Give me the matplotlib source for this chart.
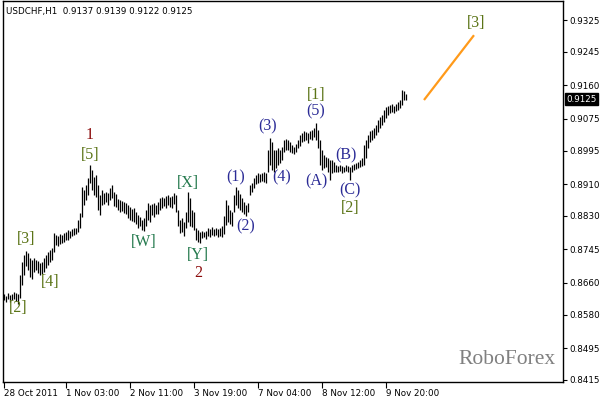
import matplotlib
matplotlib.use("Agg")
import matplotlib.pyplot as plt
import numpy as np

highs = [0.8632, 0.8627, 0.8635, 0.8630, 0.8632, 0.8637, 0.8635, 0.8632, 0.8680, 0.8713,
         0.8731, 0.8741, 0.8736, 0.8723, 0.8718, 0.8723, 0.8718, 0.8716, 0.8711, 0.8713,
         0.8723, 0.8731, 0.8738, 0.8743, 0.8749, 0.8786, 0.8781, 0.8779, 0.8784, 0.8781,
         0.8786, 0.8789, 0.8794, 0.8792, 0.8797, 0.8799, 0.8799, 0.8819, 0.8837, 0.8903,
         0.8895, 0.8908, 0.8926, 0.8958, 0.8946, 0.8928, 0.8933, 0.8908, 0.8883, 0.8895,
         0.8888, 0.8890, 0.8888, 0.8900, 0.8908, 0.8890, 0.8885, 0.8872, 0.8870, 0.8868,
         0.8865, 0.8862, 0.8857, 0.8852, 0.8847, 0.8850, 0.8840, 0.8832, 0.8827, 0.8819,
         0.8825, 0.8845, 0.8862, 0.8857, 0.8860, 0.8862, 0.8857, 0.8865, 0.8875, 0.8878,
         0.8875, 0.8880, 0.8883, 0.8878, 0.8880, 0.8888, 0.8883, 0.8845, 0.8819, 0.8825,
         0.8814, 0.8840, 0.8890, 0.8875, 0.8845, 0.8840, 0.8799, 0.8794, 0.8789, 0.8792,
         0.8789, 0.8792, 0.8799, 0.8797, 0.8802, 0.8797, 0.8799, 0.8797, 0.8799, 0.8804,
         0.8829, 0.8870, 0.8857, 0.8845, 0.8840, 0.8883, 0.8903, 0.8895, 0.8885, 0.8875,
         0.8865, 0.8857, 0.8862, 0.8908, 0.8913, 0.8926, 0.8933, 0.8938, 0.8936, 0.8938,
         0.8941, 0.8938, 0.8996, 0.9027, 0.9017, 0.8996, 0.8996, 0.9002, 0.8996, 0.9004,
         0.9022, 0.9024, 0.9022, 0.9017, 0.9009, 0.9004, 0.9012, 0.9022, 0.9034, 0.9040,
         0.9045, 0.9042, 0.9040, 0.9045, 0.9047, 0.9052, 0.9065, 0.9047, 0.9022, 0.8996,
         0.8984, 0.8979, 0.8976, 0.8971, 0.8971, 0.8966, 0.8958, 0.8956, 0.8958, 0.8956,
         0.8954, 0.8958, 0.8956, 0.8954, 0.8958, 0.8961, 0.8964, 0.8966, 0.8971, 0.8976,
         0.9009, 0.9022, 0.9034, 0.9045, 0.9047, 0.9052, 0.9060, 0.9072, 0.9080, 0.9085,
         0.9098, 0.9105, 0.9108, 0.9110, 0.9113, 0.9108, 0.9113, 0.9118, 0.9123, 0.9148,
         0.9146, 0.9139]

lows = [0.8617, 0.8612, 0.8620, 0.8612, 0.8617, 0.8620, 0.8614, 0.8607, 0.8622, 0.8655,
        0.8680, 0.8703, 0.8693, 0.8675, 0.8670, 0.8688, 0.8693, 0.8685, 0.8680, 0.8683,
        0.8688, 0.8698, 0.8705, 0.8713, 0.8718, 0.8738, 0.8756, 0.8754, 0.8759, 0.8761,
        0.8764, 0.8769, 0.8769, 0.8774, 0.8779, 0.8781, 0.8784, 0.8789, 0.8799, 0.8827,
        0.8857, 0.8870, 0.8883, 0.8913, 0.8895, 0.8883, 0.8878, 0.8845, 0.8832, 0.8857,
        0.8860, 0.8865, 0.8857, 0.8870, 0.8875, 0.8855, 0.8852, 0.8845, 0.8840, 0.8842,
        0.8837, 0.8835, 0.8825, 0.8819, 0.8817, 0.8814, 0.8809, 0.8799, 0.8804, 0.8794,
        0.8792, 0.8804, 0.8819, 0.8814, 0.8832, 0.8827, 0.8835, 0.8835, 0.8845, 0.8850,
        0.8855, 0.8850, 0.8857, 0.8852, 0.8850, 0.8860, 0.8840, 0.8804, 0.8786, 0.8789,
        0.8779, 0.8799, 0.8814, 0.8804, 0.8802, 0.8794, 0.8769, 0.8764, 0.8761, 0.8774,
        0.8776, 0.8771, 0.8779, 0.8776, 0.8781, 0.8779, 0.8781, 0.8776, 0.8779, 0.8776,
        0.8784, 0.8807, 0.8814, 0.8809, 0.8804, 0.8840, 0.8857, 0.8850, 0.8845, 0.8840,
        0.8835, 0.8829, 0.8840, 0.8883, 0.8890, 0.8900, 0.8911, 0.8913, 0.8916, 0.8918,
        0.8916, 0.8913, 0.8941, 0.8958, 0.8946, 0.8941, 0.8951, 0.8958, 0.8964, 0.8971,
        0.8991, 0.8996, 0.8996, 0.8991, 0.8989, 0.8986, 0.8991, 0.9002, 0.9007, 0.9017,
        0.9019, 0.9022, 0.9014, 0.9024, 0.9022, 0.9029, 0.9022, 0.9002, 0.8958, 0.8946,
        0.8951, 0.8954, 0.8941, 0.8921, 0.8938, 0.8941, 0.8941, 0.8941, 0.8943, 0.8938,
        0.8941, 0.8943, 0.8941, 0.8921, 0.8941, 0.8946, 0.8948, 0.8951, 0.8954, 0.8956,
        0.8958, 0.8976, 0.9002, 0.9017, 0.9022, 0.9027, 0.9034, 0.9042, 0.9052, 0.9060,
        0.9067, 0.9077, 0.9085, 0.9090, 0.9093, 0.9090, 0.9095, 0.9098, 0.9103, 0.9110,
        0.9123, 0.9122]

title_text = "USDCHF,H1  0.9137 0.9139 0.9122 0.9125"
last_price = 0.9125

ytick_vals = [0.9325, 0.9245, 0.9160, 0.9075, 0.8995, 0.8910, 0.8830, 0.8745,
              0.8660, 0.8580, 0.8495, 0.8415]
xtick_bars = [0, 31, 63, 95, 127, 159, 191]
xtick_labels = ["28 Oct 2011", "1 Nov 03:00", "2 Nov 11:00", "3 Nov 19:00",
                "7 Nov 04:00", "8 Nov 12:00", "9 Nov 20:00"]

# forecast line [start bar, end bar], [start price, end price]
fc_bars = [210, 235]
fc_prices = [0.9123, 0.9287]

# wave labels: (text, bar, price, kind)
wave_labels = [
    ("[2]", 7, 0.8597, "olive"), ("[3]", 11, 0.8771, "olive"), ("[4]", 23, 0.8663, "olive"),
    ("1", 43, 0.9034, "red"), ("[5]", 43, 0.8984, "olive"),
    ("[W]", 70, 0.8764, "teal"), ("[X]", 92, 0.8913, "teal"), ("[Y]", 97, 0.8731, "teal"),
    ("2", 97, 0.8686, "red"),
    ("(1)", 116, 0.8928, "blue"), ("(2)", 121, 0.8802, "blue"), ("(3)", 132, 0.9055, "blue"),
    ("(4)", 139, 0.8926, "blue"), ("(5)", 156, 0.9093, "blue"), ("[1]", 156, 0.9136, "olive"),
    ("(A)", 156, 0.8916, "blue"), ("(B)", 171, 0.8984, "blue"), ("(C)", 173, 0.8895, "blue"),
    ("[2]", 173, 0.8850, "olive"), ("[3]", 236, 0.9318, "olive"),
]
colors = {"olive": "#5b7417", "teal": "#257a4e", "blue": "#2b2b96", "red": "#8b0a0a"}

W, H = 603, 399
fig = plt.figure(figsize=(W / 100, H / 100), dpi=100)
fig.patch.set_facecolor("white")
ax = fig.add_axes([3 / W, (H - 382) / H, 560 / W, 381 / H])
ax.set_facecolor("white")

x = np.arange(len(highs))
ax.vlines(x, lows, highs, colors="black", linewidth=0.9)

ax.plot(fc_bars, fc_prices, color="#ff9a1a", linewidth=1.6, solid_capstyle="butt")

for txt, b, p, kind in wave_labels:
    ax.text(b, p, txt, color=colors[kind], fontsize=11.5, family="Liberation Serif",
            ha="center", va="center")

ax.text(0.987, 0.035, "RoboForex", transform=ax.transAxes, color="#808080",
        fontsize=15.5, family="Liberation Serif", ha="right", va="bottom")
ax.text(3 / 560, 0.985, title_text, transform=ax.transAxes, color="black",
        fontsize=6.3, family="DejaVu Sans", ha="left", va="top")

ax.set_xlim(-0.5, 279.5)
ax.set_ylim(0.84095, 0.93735)

ax.yaxis.tick_right()
ax.set_yticks(ytick_vals)
ax.set_yticklabels([f"{v:.4f}" for v in ytick_vals])
ax.tick_params(axis="y", direction="out", length=3, width=0.8, pad=1.5,
               labelsize=6.3, colors="black")
ax.set_xticks(xtick_bars)
ax.set_xticklabels(xtick_labels, ha="left")
ax.tick_params(axis="x", direction="out", length=4, width=0.8, pad=1,
               labelsize=6.3, colors="black")

for sp in ax.spines.values():
    sp.set_color("black")
    sp.set_linewidth(1.0)

ax.text(1.006, last_price, f"{last_price:.4f}", transform=ax.get_yaxis_transform(),
        color="white", fontsize=6.3, ha="left", va="center", family="DejaVu Sans",
        bbox=dict(boxstyle="square,pad=0.15", fc="black", ec="black"))

fig.savefig("out.png", dpi=100, facecolor="white")
